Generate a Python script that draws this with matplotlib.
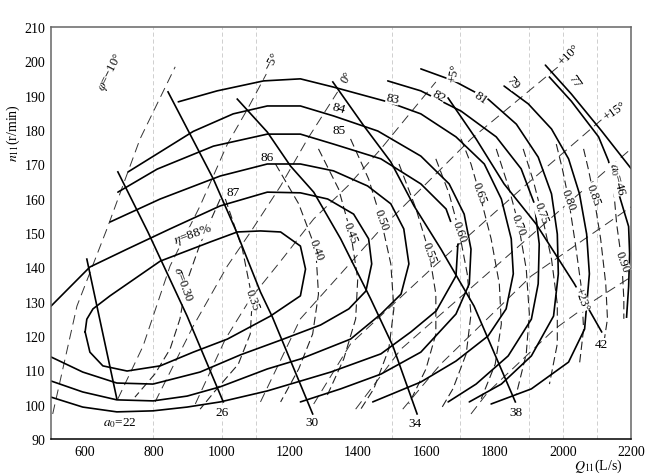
import matplotlib
matplotlib.use("Agg")
import matplotlib.pyplot as plt

plt.rcParams["font.family"] = ["Liberation Serif", "STIXGeneral", "DejaVu Serif"]
plt.rcParams["mathtext.fontset"] = "stix"
plt.rcParams["lines.scale_dashes"] = False

# Q11 (L/s) of the light vertical guide lines
GRID_Q = [800, 1000, 1100, 1500, 1700, 1900, 2000, 2100]

# ---- efficiency contours eta (%) : Q11 (L/s), n11 (r/min) ----
ETA88_Q = [600, 605, 623, 673, 820, 967, 1046, 1114, 1173, 1231, 1246, 1231, 1143, 1017, 917, 820, 723, 652, 614, 600]
ETA88_N = [121.2, 124.9, 127.9, 131.7, 141.8, 147.4, 150.3, 150.6, 150.3, 146.2, 139.5, 131.7, 125.8, 119.1, 115.3, 111.3, 109.8, 111.3, 115.3, 121.2]
ETA87_Q = [500, 614, 723, 849, 996, 1134, 1231, 1311, 1387, 1431, 1440, 1423, 1373, 1290, 1173, 1055, 937, 799, 693, 593, 500]
ETA87_N = [128.7, 140.1, 145.3, 151.2, 157.9, 161.9, 161.7, 159.9, 155.5, 148.3, 141.0, 133.1, 127.9, 123.2, 118.8, 114.5, 109.5, 106.0, 106.3, 109.5, 113.9]
ETA86_Q = [673, 820, 996, 1134, 1231, 1328, 1428, 1496, 1534, 1549, 1526, 1467, 1378, 1231, 1134, 996, 899, 799, 693, 593, 500]
ETA86_N = [153.2, 159.9, 166.6, 170.1, 170.1, 168.1, 163.7, 158.5, 151.2, 141.0, 132.2, 126.4, 119.1, 113.3, 110.4, 105.2, 102.5, 101.1, 101.4, 103.7, 106.9]
ETA85_Q = [696, 811, 976, 1134, 1231, 1328, 1467, 1584, 1658, 1693, 1687, 1629, 1555, 1467, 1320, 1134, 996, 899, 799, 693, 593, 500]
ETA85_N = [161.9, 168.6, 175.3, 178.8, 178.8, 175.9, 171.6, 164.3, 157.0, 147.4, 137.5, 127.3, 121.2, 114.8, 109.5, 104.0, 100.8, 99.3, 98.2, 97.9, 99.3, 102.2]
ETA84_Q = [726, 820, 917, 1034, 1134, 1231, 1328, 1458, 1584, 1667, 1711, 1731, 1726, 1687, 1584, 1467, 1349, 1231]
ETA84_N = [167.8, 173.6, 179.6, 184.7, 187.0, 187.0, 184.1, 179.7, 172.4, 164.3, 155.5, 145.3, 135.2, 126.4, 115.3, 108.9, 104.6, 100.8]
ETA83_Q = [873, 987, 1123, 1231, 1328, 1487, 1584, 1687, 1770, 1820, 1849, 1855, 1834, 1781, 1687, 1584, 1443]
ETA83_N = [188.2, 191.4, 194.3, 194.9, 192.5, 188.2, 184.7, 178.0, 170.1, 159.9, 148.3, 138.1, 127.9, 120.0, 112.7, 106.6, 100.8]
ETA82_Q = [1487, 1584, 1702, 1805, 1878, 1917, 1931, 1928, 1908, 1840, 1746, 1664]
ETA82_N = [194.3, 191.4, 185.5, 178.0, 168.7, 158.5, 146.8, 135.2, 124.9, 114.2, 106.0, 100.8]
ETA81_Q = [1584, 1681, 1781, 1864, 1928, 1967, 1984, 1987, 1973, 1908, 1820, 1726]
ETA81_N = [197.8, 194.3, 189.0, 181.7, 172.1, 161.4, 149.7, 138.1, 125.8, 114.2, 106.0, 100.8]
ETA79_Q = [1828, 1899, 1967, 2017, 2049, 2070, 2078, 2064, 2017, 1908, 1790]
ETA79_N = [192.8, 187.6, 180.3, 171.6, 161.4, 149.7, 138.1, 122.0, 112.4, 104.6, 100.2]
ETA77_Q = [1949, 2025, 2114, 2200]
ETA77_N = [198.9, 190.5, 179.7, 168.8]

EFF_TEXT = [r"$\eta$=88%", "87", "86", "85", "84", "83", "82", "81", "79", "77"]
EFF_TEXT_Q = [917, 1034, 1134, 1343, 1343, 1502, 1637, 1758, 1852, 2034]
EFF_TEXT_N = [149.7, 162.0, 172.1, 180.0, 186.4, 189.3, 189.9, 189.6, 194.0, 194.3]
EFF_TEXT_ROT = [20, 0, 0, 0, -15, -12, -30, -35, -50, -55]

# ---- guide vane opening a0 (mm) ----
A22_Q = [605, 693]
A22_N = [142.4, 101.7]
A26_Q = [696, 784, 899, 1005]
A26_N = [167.8, 150.3, 125.8, 100.8]
A30_Q = [843, 976, 1040, 1114, 1149, 1267]
A30_N = [191.1, 165.7, 151.2, 132.8, 125.5, 97.3]
A34_Q = [1046, 1134, 1202, 1270, 1349, 1437, 1502, 1573]
A34_N = [189.0, 179.4, 169.5, 161.9, 148.3, 130.8, 117.1, 97.3]
A38_Q = [1326, 1417, 1496, 1564, 1643, 1740, 1861]
A38_N = [194.0, 181.2, 170.7, 157.9, 145.3, 128.7, 100.8]
A42_Q = [1664, 1746, 1828, 1922, 2034, 2114]
A42_N = [189.3, 177.4, 164.3, 152.6, 135.2, 121.2]
A46_Q = [1961, 2025, 2105, 2134, 2149, 2167, 2193, 2196, 2193, 2187]
A46_N = [195.4, 188.4, 178.0, 171.0, 164.3, 160.5, 151.9, 143.9, 134.3, 125.5]

A0_TEXT = [r"$a_0$=22", "26", "30", "34", "38", "42", r"$a_0$=46"]
A0_TEXT_Q = [702, 1002, 1264, 1567, 1864, 2114, 2158]
A0_TEXT_N = [95.0, 97.9, 95.0, 94.7, 97.9, 117.7, 165.7]
A0_TEXT_ROT = [0, 0, 0, 0, 0, 0, -75]

# ---- blade angle phi lines ----
PHI_M10_Q = [505, 576, 664, 761, 864]
PHI_M10_N = [97.3, 128.7, 151.2, 177.4, 198.4]
PHI_M5_Q = [696, 770, 849, 937, 1017, 1076, 1131]
PHI_M5_N = [101.7, 117.1, 140.4, 157.9, 175.9, 186.1, 196.3]
PHI_0_Q = [805, 917, 1017, 1085, 1173, 1252, 1340]
PHI_0_N = [100.8, 122.9, 140.4, 150.3, 163.7, 177.4, 191.1]
PHI_P5_Q = [923, 1011, 1084, 1173, 1270, 1370, 1467, 1546, 1628]
PHI_P5_N = [100.2, 119.1, 130.8, 141.8, 154.1, 163.7, 174.5, 184.1, 194.0]
PHI_P10_Q = [1114, 1231, 1467, 1731, 1996]
PHI_P10_N = [100.8, 125.0, 151.2, 177.4, 199.2]
PHI_P15_Q = [1270, 1378, 1614, 1878, 2123]
PHI_P15_N = [100.2, 117.7, 139.5, 162.8, 183.8]
PHI_X1_Q = [1393, 1526, 1761, 1996, 2200]
PHI_X1_N = [98.7, 116.2, 136.6, 157.0, 174.5]
PHI_X2_Q = [1531, 1643, 1908, 2200]
PHI_X2_N = [98.7, 111.9, 137.5, 157.6]
PHI_P23_Q = [1731, 1781, 1976, 2090, 2200]
PHI_P23_N = [97.3, 103.7, 122.0, 130.2, 137.2]

PHI_TEXT = [r"$\varphi$=−10°", "−5°", "0°", "+5°", "+10°", "+15°", "+23°"]
PHI_TEXT_Q = [675, 1149, 1367, 1681, 2017, 2152, 2055]
PHI_TEXT_N = [197.2, 200.1, 195.4, 196.9, 202.1, 185.8, 130.8]
PHI_TEXT_ROT = [63, 62, 60, 80, 45, 35, -70]

# ---- cavitation coefficient sigma lines ----
S30_Q = [996, 937, 896, 878, 849, 805, 746]
S30_N = [159.9, 146.8, 135.2, 125.0, 116.2, 109.0, 102.2]
S35_Q = [1011, 1061, 1090, 1084, 1049, 981, 937]
S35_N = [159.9, 145.3, 130.8, 120.6, 111.8, 104.0, 98.7]
S40_Q = [1158, 1226, 1276, 1284, 1267, 1226, 1173]
S40_N = [170.1, 158.5, 145.3, 132.2, 120.6, 110.4, 100.8]
S45_Q = [1284, 1343, 1378, 1399, 1393, 1358, 1305]
S45_N = [174.5, 162.8, 150.3, 136.6, 125.0, 113.3, 101.7]
S50_Q = [1378, 1431, 1467, 1496, 1505, 1490, 1446, 1408]
S50_N = [177.4, 165.7, 154.1, 141.0, 127.9, 116.2, 104.6, 98.7]
S55_Q = [1520, 1570, 1608, 1628, 1628, 1599, 1549]
S55_N = [170.1, 157.0, 144.5, 132.2, 120.6, 110.4, 100.2]
S60_Q = [1628, 1667, 1696, 1720, 1731, 1717, 1678, 1643]
S60_N = [171.6, 161.4, 150.6, 138.1, 126.4, 114.8, 104.6, 98.7]
S65_Q = [1702, 1731, 1755, 1790, 1814, 1820, 1802, 1761]
S65_N = [177.4, 170.1, 161.9, 148.3, 135.2, 123.5, 111.8, 101.7]
S70_Q = [1805, 1843, 1870, 1893, 1902, 1893, 1864]
S70_N = [174.5, 162.8, 152.6, 139.5, 126.4, 114.8, 103.1]
S75_Q = [1884, 1914, 1937, 1967, 1984, 1984, 1961]
S75_N = [174.5, 165.1, 156.1, 142.4, 129.3, 117.7, 106.0]
S80_Q = [1981, 1999, 2017, 2037, 2055, 2061, 2049]
S80_N = [175.9, 168.6, 159.9, 146.8, 133.7, 122.0, 111.8]
S85_Q = [2061, 2075, 2090, 2111, 2126, 2131, 2120]
S85_N = [174.5, 168.6, 161.4, 148.3, 135.2, 125.0, 117.7]
S90_Q = [2149, 2158, 2173, 2179, 2179]
S90_N = [162.8, 152.6, 141.8, 130.8, 125.0]

SIG_TEXT = [r"$\sigma$=0.30", "0.35", "0.40", "0.45", "0.50", "0.55", "0.60",
            "0.65", "0.70", "0.75", "0.80", "0.85", "0.90"]
SIG_TEXT_Q = [887, 1090, 1276, 1378, 1467, 1608, 1696, 1755, 1870, 1937, 2017, 2090, 2173]
SIG_TEXT_N = [135.2, 130.8, 145.3, 150.3, 154.1, 144.5, 150.6, 161.9, 152.6, 156.1, 159.9, 161.4, 141.8]


def main():
    fig = plt.figure(figsize=(6.5, 4.77), dpi=100)
    ax = fig.add_axes([51 / 650, 1 - 440 / 477, 580 / 650, 412 / 477])

    for q in GRID_Q:
        ax.axvline(q, color="#c8c8c8", lw=0.6, ls=(0, (3, 2)), zorder=0)

    phi_lines = [(PHI_M10_Q, PHI_M10_N), (PHI_M5_Q, PHI_M5_N), (PHI_0_Q, PHI_0_N),
                 (PHI_P5_Q, PHI_P5_N), (PHI_P10_Q, PHI_P10_N), (PHI_P15_Q, PHI_P15_N),
                 (PHI_X1_Q, PHI_X1_N), (PHI_X2_Q, PHI_X2_N), (PHI_P23_Q, PHI_P23_N)]
    for q, n in phi_lines:
        ax.plot(q, n, color="#333333", lw=0.7, ls=(0, (7, 4)), zorder=1)

    sig_lines = [(S30_Q, S30_N), (S35_Q, S35_N), (S40_Q, S40_N), (S45_Q, S45_N),
                 (S50_Q, S50_N), (S55_Q, S55_N), (S60_Q, S60_N), (S65_Q, S65_N),
                 (S70_Q, S70_N), (S75_Q, S75_N), (S80_Q, S80_N), (S85_Q, S85_N),
                 (S90_Q, S90_N)]
    for q, n in sig_lines:
        ax.plot(q, n, color="#222222", lw=0.8, ls=(0, (6, 3)), zorder=1)

    eff_lines = [(ETA88_Q, ETA88_N), (ETA87_Q, ETA87_N), (ETA86_Q, ETA86_N),
                 (ETA85_Q, ETA85_N), (ETA84_Q, ETA84_N), (ETA83_Q, ETA83_N),
                 (ETA82_Q, ETA82_N), (ETA81_Q, ETA81_N), (ETA79_Q, ETA79_N),
                 (ETA77_Q, ETA77_N)]
    for q, n in eff_lines:
        ax.plot(q, n, color="black", lw=1.2, zorder=2, solid_capstyle="round")

    a0_lines = [(A22_Q, A22_N), (A26_Q, A26_N), (A30_Q, A30_N), (A34_Q, A34_N),
                (A38_Q, A38_N), (A42_Q, A42_N), (A46_Q, A46_N)]
    for q, n in a0_lines:
        ax.plot(q, n, color="black", lw=1.2, zorder=2)

    box = dict(fc="white", ec="none", pad=0.2)
    for t, q, n, r in zip(EFF_TEXT, EFF_TEXT_Q, EFF_TEXT_N, EFF_TEXT_ROT):
        ax.text(q, n, t, fontsize=9.5, rotation=r, ha="center", va="center",
                rotation_mode="anchor", bbox=box, zorder=4)
    for t, q, n, r in zip(A0_TEXT, A0_TEXT_Q, A0_TEXT_N, A0_TEXT_ROT):
        ax.text(q, n, t, fontsize=9.5, rotation=r, ha="center", va="center",
                rotation_mode="anchor", bbox=box, zorder=4)
    for t, q, n, r in zip(PHI_TEXT, PHI_TEXT_Q, PHI_TEXT_N, PHI_TEXT_ROT):
        ax.text(q, n, t, fontsize=9, rotation=r, ha="center", va="center",
                rotation_mode="anchor", bbox=box, zorder=4)
    for t, q, n in zip(SIG_TEXT, SIG_TEXT_Q, SIG_TEXT_N):
        ax.text(q, n, t, fontsize=9, rotation=-70, ha="center", va="center",
                rotation_mode="anchor", bbox=box, zorder=4)

    ax.set_xlim(500, 2200)
    ax.set_ylim(90, 210)
    ax.set_xticks(range(600, 2201, 200))
    ax.set_yticks(range(90, 211, 10))
    ax.tick_params(length=0, labelsize=10, pad=4)
    for side in ["left", "top", "right"]:
        ax.spines[side].set_color("#666666")
        ax.spines[side].set_linewidth(1.1)
    ax.spines["bottom"].set_color("black")
    ax.spines["bottom"].set_linewidth(1.1)

    fig.text(13 / 650, 1 - 133 / 477, r"$n_{11}$(r/min)", rotation=90,
             ha="center", va="center", fontsize=10)
    fig.text(598 / 650, 1 - 466 / 477, r"$Q_{11}$(L/s)", ha="center",
             va="center", fontsize=10)

    fig.savefig("out.png", dpi=100)
    plt.close(fig)


if __name__ == "__main__":
    main()
